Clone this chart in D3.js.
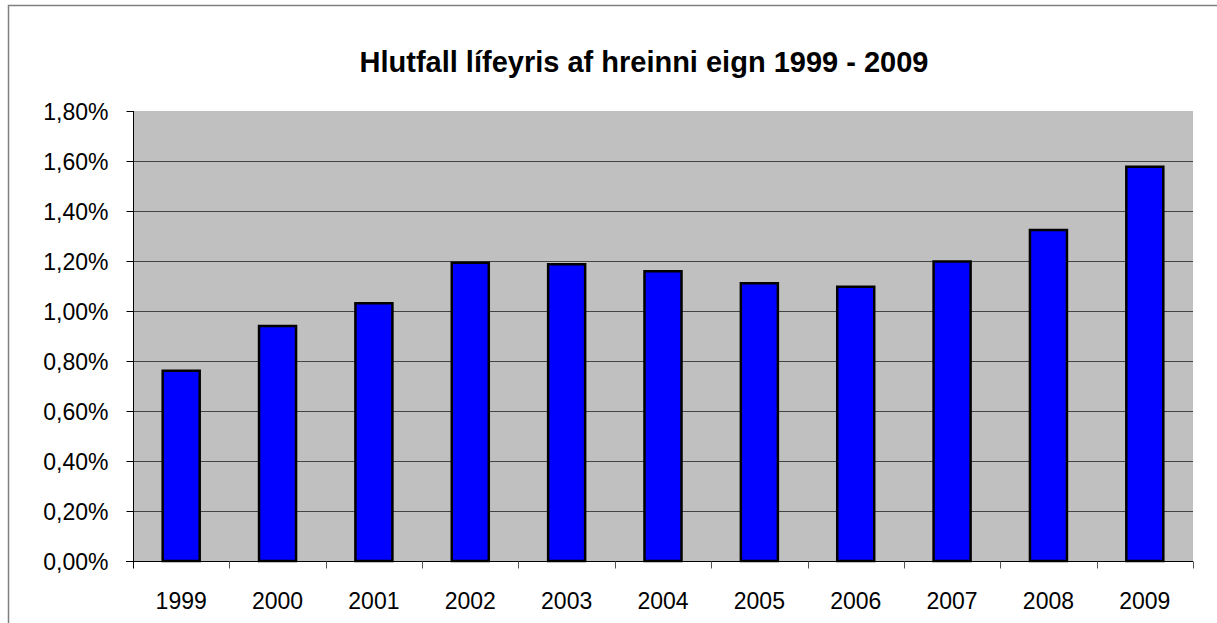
<!DOCTYPE html>
<html lang="is"><head>
<meta charset="utf-8">
<title>Hlutfall lífeyris</title>
<script src="https://cdnjs.cloudflare.com/ajax/libs/d3/7.8.5/d3.min.js"></script>
<style>
  body { margin: 0; background: #fff; overflow: hidden; }
  svg text { font-family: "Liberation Sans", Arial, sans-serif; fill: #000; }
</style>
</head>
<body>
<svg id="chart" width="1217" height="623"></svg>
<script>
// data (percent)
var years = ["1999","2000","2001","2002","2003","2004","2005","2006","2007","2008","2009"];
var values = [0.761, 0.94, 1.031, 1.193, 1.187, 1.159, 1.111, 1.097, 1.198, 1.324, 1.577];
var yTicks = [0, 0.2, 0.4, 0.6, 0.8, 1.0, 1.2, 1.4, 1.6, 1.8];
var title = "Hlutfall lífeyris af hreinni eign 1999 - 2009";

var svg = d3.select("#chart");
var plot = { left: 133, right: 1193, top: 111, bottom: 561 };

// outer chart frame (cut off on right/bottom)
svg.append("rect")
  .attr("x", 8.5).attr("y", 5.5)
  .attr("width", 1400).attr("height", 800)
  .attr("fill", "none").attr("stroke", "#7f7f7f").attr("stroke-width", 1.5);

svg.append("text")
  .attr("x", 644).attr("y", 72)
  .attr("text-anchor", "middle")
  .style("font-size", "29px").style("font-weight", "bold")
  .text(title);

var x = d3.scaleBand().domain(years)
  .range([plot.left, plot.right])
  .paddingInner(0.616).paddingOuter(0.308);

var y = d3.scaleLinear().domain([0, 1.8]).range([plot.bottom, plot.top]);

svg.append("rect")
  .attr("x", plot.left).attr("y", plot.top)
  .attr("width", plot.right - plot.left).attr("height", plot.bottom - plot.top)
  .attr("fill", "#c0c0c0");

// gridlines
svg.append("g").selectAll("line")
  .data(yTicks.filter(function(d){ return d > 0 && d < 1.8; }))
  .enter().append("line")
  .attr("x1", plot.left).attr("x2", plot.right)
  .attr("y1", function(d){ return Math.round(y(d)) + 0.5; })
  .attr("y2", function(d){ return Math.round(y(d)) + 0.5; })
  .attr("stroke", "#444").attr("stroke-width", 1);

// bars
svg.append("g").selectAll("rect")
  .data(values)
  .enter().append("rect")
  .attr("x", function(d, i){ return x(years[i]); })
  .attr("width", x.bandwidth())
  .attr("y", function(d){ return y(d); })
  .attr("height", function(d){ return y(0) - y(d); })
  .attr("fill", "#0000ff")
  .attr("stroke", "#000").attr("stroke-width", 2.5);

// y axis
var fmt = function(d){ return d3.format(".2f")(d).replace(".", ",") + "%"; };
var yAxis = svg.append("g")
  .attr("transform", "translate(" + (plot.left + 0.5) + ",0)")
  .call(d3.axisLeft(y).tickValues(yTicks).tickSize(7).tickPadding(18).tickFormat(fmt));
yAxis.select(".domain").attr("d", "M0," + plot.top + "V" + (plot.bottom + 7)).attr("stroke", "#000");
yAxis.selectAll(".tick line").attr("stroke", "#000");
yAxis.selectAll("text").style("font-size", "23px").attr("dy", "0.36em");

// x axis, ticks sit on category boundaries
var xAxis = svg.append("g").attr("transform", "translate(0," + (plot.bottom + 0.5) + ")");
xAxis.append("line")
  .attr("x1", plot.left - 7).attr("x2", plot.right)
  .attr("stroke", "#000");
var step = x.step();
xAxis.selectAll(".xt").data(d3.range(years.length + 1)).enter().append("line")
  .attr("class", "xt")
  .attr("x1", function(i){ return Math.round(plot.left + i * step) + 0.5; })
  .attr("x2", function(i){ return Math.round(plot.left + i * step) + 0.5; })
  .attr("y1", 0).attr("y2", 7)
  .attr("stroke", function(i){ return i === 0 ? "#000" : "#555"; });
xAxis.selectAll(".xl").data(years).enter().append("text")
  .attr("class", "xl")
  .attr("x", function(d){ return x(d) + x.bandwidth() / 2; })
  .attr("y", 47)
  .attr("text-anchor", "middle")
  .style("font-size", "23px")
  .text(function(d){ return d; });
</script>
</body></html>
